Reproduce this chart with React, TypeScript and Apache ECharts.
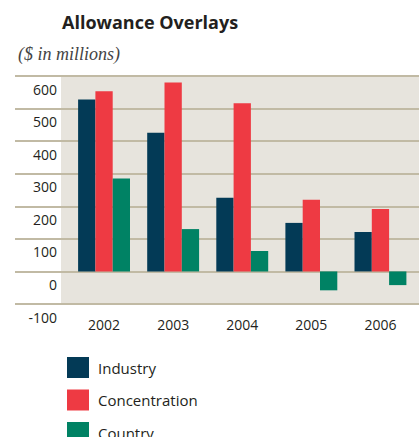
import React, { useEffect, useRef } from "react";
import * as echarts from "echarts";

const categories = ["2002", "2003", "2004", "2005", "2006"];
const seriesNames = ["Industry", "Concentration", "Country"];
const industry = [528, 426, 226, 149, 121];
const concentration = [553, 580, 516, 220, 192];
const country = [285, 130, 63, -58, -42];
const yMin = -100;
const yMax = 600;
const yStep = 100;

const FONT = "'Open Sans', 'Noto Sans', sans-serif";
const COLORS = ["#033a56", "#ee3a43", "#008264"];

export default function App() {
  const ref = useRef<HTMLDivElement>(null);
  useEffect(() => {
    if (!ref.current) return;
    const chart = echarts.init(ref.current, null, { renderer: "svg" });
    const top = 76;
    const bottom = 133;
    const values = [industry, concentration, country];
    chart.setOption({
      animation: false,
      title: [
        {
          text: "Allowance Overlays",
          left: 57,
          top: 8,
          textStyle: { fontFamily: FONT, fontSize: 18, fontWeight: "bold", color: "#231f20" },
        },
        {
          text: "($ in millions)",
          left: 13,
          top: 40,
          textStyle: { fontFamily: "'Liberation Serif', 'DejaVu Serif', serif", fontSize: 18, fontStyle: "italic", fontWeight: "normal", color: "#444" },
        },
      ],
      legend: seriesNames.map((n, i) => ({
        orient: "vertical",
        left: 62,
        top: 352 + i * 32.5,
        itemWidth: 22,
        itemHeight: 21,
        icon: "rect",
        textStyle: { fontFamily: FONT, fontSize: 15, color: "#231f20", padding: [0, 0, 0, 4] },
        data: [n],
      })),
      grid: [
        { left: 15, right: 0, top, bottom, show: false },
        { left: 61, right: 0, top, bottom, show: true, backgroundColor: "#e7e4dd", borderWidth: 0 },
        { left: 69.5, right: 4, top, bottom, show: false },
      ],
      xAxis: [
        { gridIndex: 0, type: "value", show: false },
        { gridIndex: 1, type: "value", show: false },
        {
          gridIndex: 2,
          type: "category",
          data: categories,
          axisLine: { show: false },
          axisTick: { show: false },
          axisLabel: { fontFamily: FONT, fontSize: 14, color: "#231f20", margin: 13 },
        },
      ],
      yAxis: [
        {
          gridIndex: 0,
          type: "value",
          min: yMin,
          max: yMax,
          interval: yStep,
          axisLabel: { show: false },
          axisLine: { show: false },
          axisTick: { show: false },
          splitLine: { show: true, lineStyle: { color: "#c1baa4", width: 2 } },
          z: 3,
        },
        {
          gridIndex: 1,
          type: "value",
          min: yMin,
          max: yMax,
          interval: yStep,
          axisLine: { show: false },
          axisTick: { show: false },
          splitLine: { show: false },
          axisLabel: {
            fontFamily: FONT,
            fontSize: 14,
            color: "#231f20",
            margin: 4,
            verticalAlign: "top",
            padding: [6, 0, 0, 0],
          },
        },
        {
          gridIndex: 2,
          type: "value",
          min: yMin,
          max: yMax,
          interval: yStep,
          show: false,
          splitLine: { show: false },
        },
      ],
      series: seriesNames.map((n, i) => ({
        name: n,
        type: "bar",
        xAxisIndex: 2,
        yAxisIndex: 2,
        data: values[i],
        barWidth: 17.3,
        barGap: "0%",
        itemStyle: { color: COLORS[i] },
        z: 4,
      })),
    });
    return () => chart.dispose();
  }, []);
  return <div ref={ref} style={{ width: 419, height: 437, position: "absolute", left: 0, top: 0 }} />;
}
